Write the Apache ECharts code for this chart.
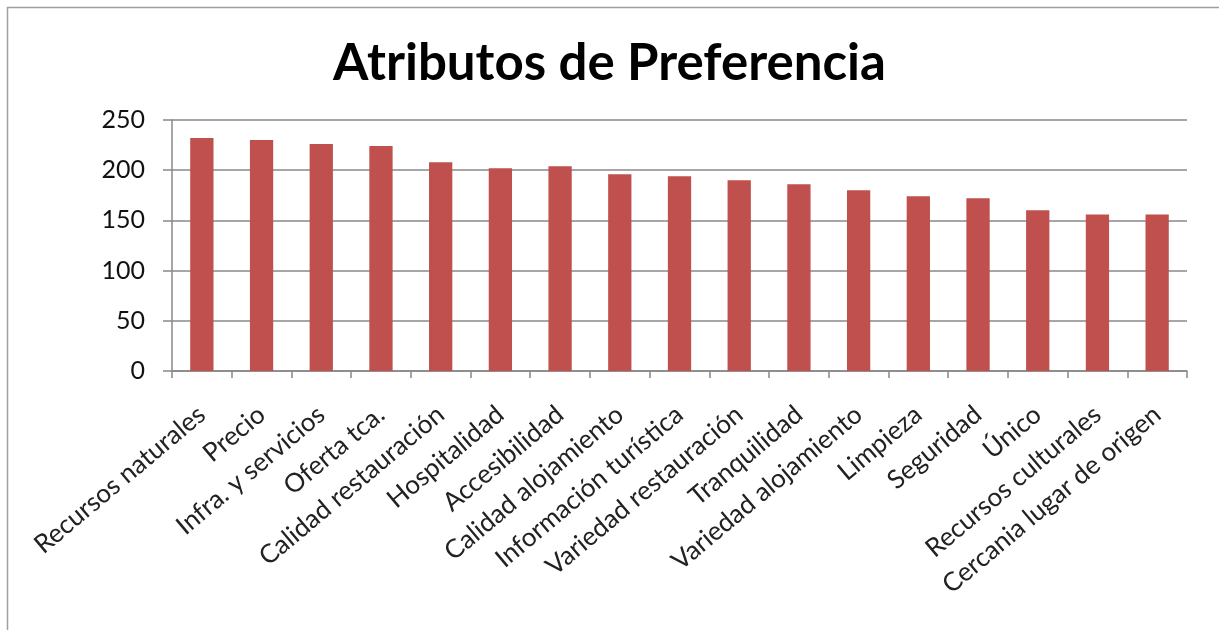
<!DOCTYPE html>
<html>
<head>
<meta charset="utf-8">
<script src="https://cdn.jsdelivr.net/npm/echarts@6/dist/echarts.min.js"></script>
<style>
  html, body { margin: 0; padding: 0; background: #fff; }
  #chart { width: 1219px; height: 630px; }
</style>
</head>
<body>
<div id="chart"></div>
<script>
  // datos del gráfico
  var categorias = [
    'Recursos naturales', 'Precio', 'Infra. y servicios', 'Oferta tca.',
    'Calidad restauración', 'Hospitalidad', 'Accesibilidad', 'Calidad alojamiento',
    'Información turística', 'Variedad restauración', 'Tranquilidad', 'Variedad alojamiento',
    'Limpieza', 'Seguridad', 'Único', 'Recursos culturales', 'Cercania lugar de origen'
  ];
  var valores = [232, 230, 226, 224, 208, 202, 204, 196, 194, 190, 186, 180, 174, 172, 160, 156, 156];
  var ticksY = [0, 50, 100, 150, 200, 250];

  var chart = echarts.init(document.getElementById('chart'));

  var option = {
    backgroundColor: '#fff',
    animation: false,
    title: {
      text: 'Atributos de Preferencia',
      left: 'center',
      top: 33,
      textStyle: {
        fontFamily: 'Lato',
        fontWeight: 'bold',
        fontSize: 51,
        color: '#000'
      }
    },
    graphic: [{
      type: 'rect',
      shape: { x: 7.5, y: 7.5, width: 1400, height: 800 },
      style: { fill: 'none', stroke: '#a0a0a0', lineWidth: 1.5 },
      silent: true
    }],
    grid: {
      left: 172,
      right: 32,
      top: 120,
      bottom: 259
    },
    xAxis: {
      type: 'category',
      data: categorias,
      axisLine: { lineStyle: { color: '#888', width: 1.5 } },
      axisTick: { show: true, length: 7, lineStyle: { color: '#888', width: 1.5 } },
      axisLabel: {
        rotate: 40,
        interval: 0,
        margin: 40,
        fontFamily: 'Lato',
        fontSize: 26,
        color: '#222'
      }
    },
    yAxis: {
      type: 'value',
      min: ticksY[0],
      max: ticksY[ticksY.length - 1],
      interval: 50,
      axisLine: { show: true, lineStyle: { color: '#888', width: 1.5 } },
      axisTick: { show: true, length: 9, lineStyle: { color: '#888', width: 1.5 } },
      splitLine: { lineStyle: { color: '#888', width: 1.5 } },
      axisLabel: {
        margin: 27,
        fontFamily: 'Lato',
        fontSize: 25,
        color: '#111'
      }
    },
    series: [{
      type: 'bar',
      data: valores,
      barWidth: '39%',
      itemStyle: { color: '#C0504D' }
    }]
  };

  chart.setOption(option);
</script>
</body>
</html>
